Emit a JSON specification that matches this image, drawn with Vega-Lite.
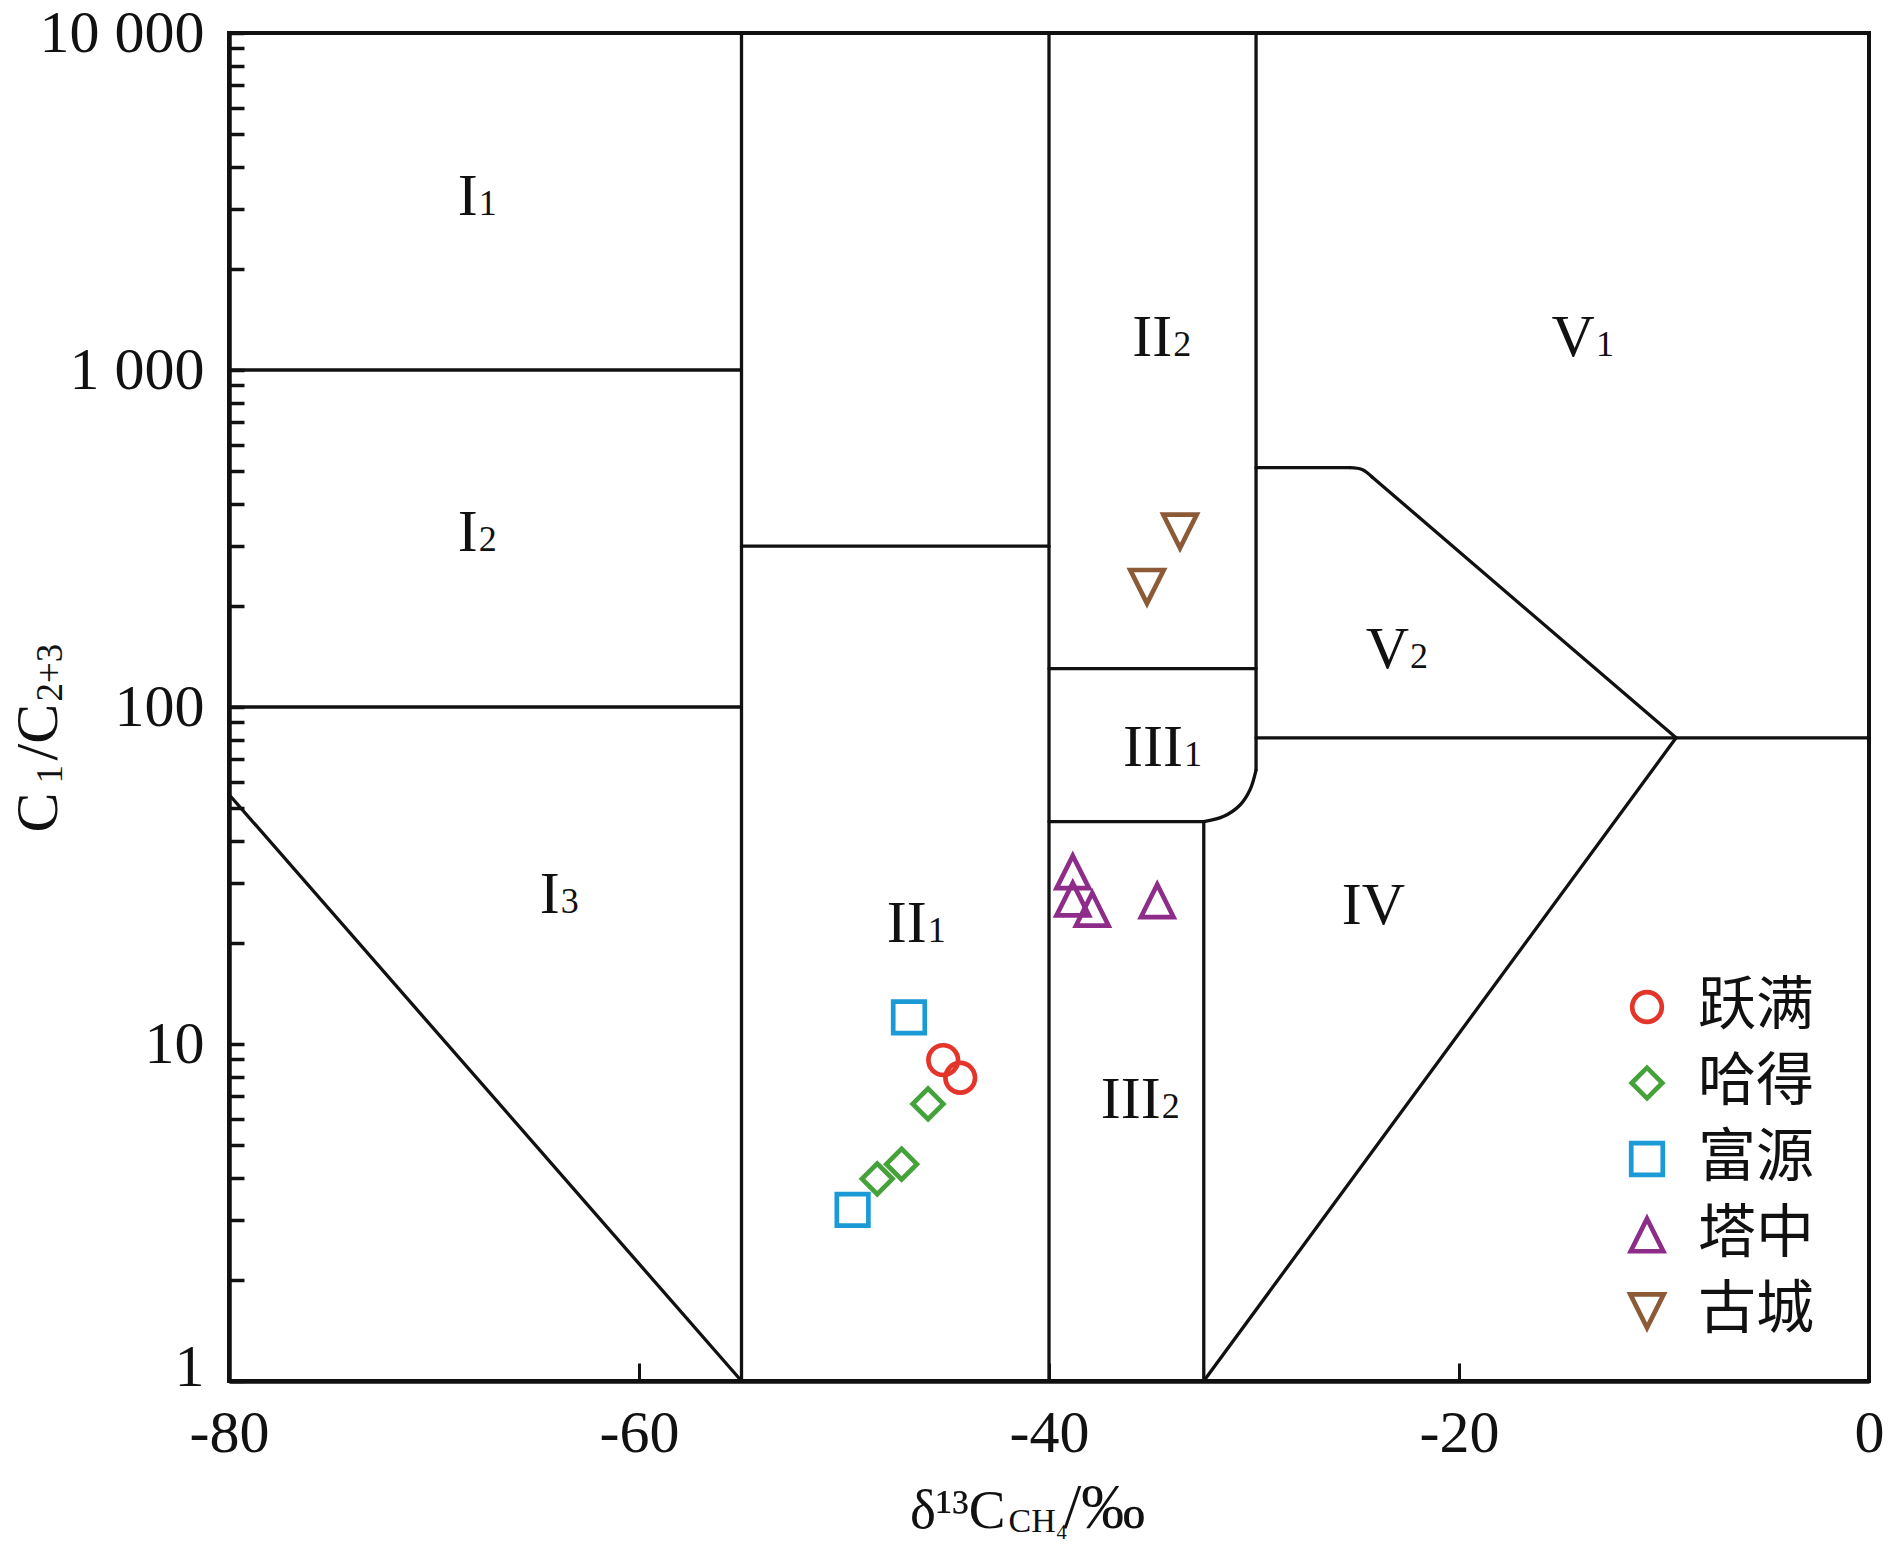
{
  "$schema": "https://vega.github.io/schema/vega-lite/v6.json",
  "width": 1640,
  "height": 1348,
  "autosize": "none",
  "padding": {"left": 229, "top": 33, "right": 22, "bottom": 167},
  "background": "white",
  "config": {
    "view": {"stroke": "#111111", "strokeWidth": 4},
    "font": "Liberation Serif, DejaVu Serif"
  },
  "resolve": {"axis": {"x": "independent", "y": "independent"}},
  "layer": [
    {
      "data": {"values": [
        {"seg": "s1", "i": 0, "x": -80, "y": 1000}, {"seg": "s1", "i": 1, "x": -55, "y": 1000},
        {"seg": "s2", "i": 0, "x": -80, "y": 100}, {"seg": "s2", "i": 1, "x": -55, "y": 100},
        {"seg": "s3", "i": 0, "x": -80, "y": 55}, {"seg": "s3", "i": 1, "x": -55, "y": 1},
        {"seg": "s4", "i": 0, "x": -55, "y": 1}, {"seg": "s4", "i": 1, "x": -55, "y": 10000},
        {"seg": "s5", "i": 0, "x": -55, "y": 300}, {"seg": "s5", "i": 1, "x": -40, "y": 300},
        {"seg": "s6", "i": 0, "x": -40, "y": 1}, {"seg": "s6", "i": 1, "x": -40, "y": 10000},
        {"seg": "s7", "i": 0, "x": -40, "y": 130}, {"seg": "s7", "i": 1, "x": -29.9, "y": 130},
        {"seg": "s8", "i": 0, "x": -29.9, "y": 10000}, {"seg": "s8", "i": 1, "x": -29.9, "y": 65},
        {"seg": "s9", "i": 0, "x": -29.9, "y": 65}, {"seg": "s9", "i": 1, "x": -30.2, "y": 56.7}, {"seg": "s9", "i": 2, "x": -30.68, "y": 51.2}, {"seg": "s9", "i": 3, "x": -31.5, "y": 47.3}, {"seg": "s9", "i": 4, "x": -32.45, "y": 45.7},
        {"seg": "s10", "i": 0, "x": -32.45, "y": 45.7}, {"seg": "s10", "i": 1, "x": -40, "y": 45.7},
        {"seg": "s11", "i": 0, "x": -32.45, "y": 45.7}, {"seg": "s11", "i": 1, "x": -32.45, "y": 1},
        {"seg": "s12", "i": 0, "x": -29.9, "y": 81}, {"seg": "s12", "i": 1, "x": 0, "y": 81},
        {"seg": "s13", "i": 0, "x": -29.9, "y": 513}, {"seg": "s13", "i": 1, "x": -25.32, "y": 513},
        {"seg": "s14", "i": 0, "x": -25.32, "y": 513}, {"seg": "s14", "i": 1, "x": -24.73, "y": 506.6}, {"seg": "s14", "i": 2, "x": -24.24, "y": 481.4},
        {"seg": "s15", "i": 0, "x": -24.24, "y": 481.4}, {"seg": "s15", "i": 1, "x": -9.41, "y": 81},
        {"seg": "s16", "i": 0, "x": -32.45, "y": 1}, {"seg": "s16", "i": 1, "x": -9.41, "y": 81}
      ]},
      "mark": {"type": "line", "interpolate": "catmull-rom", "color": "#111111", "strokeWidth": 3.3, "strokeCap": "round", "strokeJoin": "round", "clip": false},
      "encoding": {
        "x": {
          "field": "x", "type": "quantitative",
          "scale": {"domain": [-80, 0], "nice": false, "zero": false},
          "axis": {
            "orient": "bottom",
            "values": [-80, -60, -40, -20, 0],
            "labelExpr": "'' + datum.value",
            "grid": false,
            "tickSize": -18, "tickWidth": 3, "tickColor": "#111111",
            "domainColor": "#111111", "domainWidth": 4.5,
            "labelFont": "Liberation Serif", "labelFontSize": 60, "labelColor": "#111111",
            "labelPadding": 41, "labelFlush": false, "labelOverlap": false,
            "title": "δ¹³C",
            "titleFont": "Liberation Serif, DejaVu Serif", "titleFontSize": 55, "titleFontWeight": "normal", "titleColor": "#111111",
            "titleX": 776, "titleY": 146, "titleAlign": "right", "titleBaseline": "alphabetic"
          }
        },
        "y": {
          "field": "y", "type": "quantitative",
          "scale": {"type": "log", "domain": [1, 10000], "nice": false},
          "axis": {
            "orient": "left",
            "values": [1, 2, 3, 4, 5, 6, 7, 8, 9, 10, 20, 30, 40, 50, 60, 70, 80, 90, 100, 200, 300, 400, 500, 600, 700, 800, 900, 1000, 2000, 3000, 4000, 5000, 6000, 7000, 8000, 9000, 10000],
            "labelExpr": "datum.value == 10000 ? '10 000' : datum.value == 1000 ? '1 000' : (datum.value == 100 || datum.value == 10 || datum.value == 1) ? '' + datum.value : ''",
            "labelOffset": {"condition": {"test": "datum.value == 1", "value": -14}, "value": 0},
            "grid": false,
            "tickSize": -15, "tickWidth": 3.5, "tickColor": "#111111",
            "domainColor": "#111111", "domainWidth": 4.5,
            "labelFont": "Liberation Serif", "labelFontSize": 60, "labelColor": "#111111",
            "labelPadding": 40, "labelFlush": false, "labelOverlap": false,
            "title": "C",
            "titleFont": "Liberation Serif, DejaVu Serif", "titleFontSize": 60, "titleFontWeight": "normal", "titleColor": "#111111",
            "titleX": -173, "titleY": 799, "titleAngle": 270, "titleAlign": "left", "titleBaseline": "alphabetic"
          }
        },
        "detail": {"field": "seg", "type": "nominal"},
        "order": {"field": "i", "type": "quantitative"}
      }
    },
    {
      "data": {"name": "regions", "values": [
        {"rom": "I", "sub": "1", "x": -67.87, "y": 2889},
        {"rom": "I", "sub": "2", "x": -67.87, "y": 290.3},
        {"rom": "I", "sub": "3", "x": -63.87, "y": 24.5},
        {"rom": "II", "sub": "1", "x": -45.96, "y": 20.1},
        {"rom": "II", "sub": "2", "x": -33.99, "y": 1102},
        {"rom": "III", "sub": "1", "x": -33.46, "y": 66.9},
        {"rom": "III", "sub": "2", "x": -34.55, "y": 6.03},
        {"rom": "IV", "sub": "", "x": -22.63, "y": 22.73},
        {"rom": "V", "sub": "1", "x": -13.37, "y": 1102},
        {"rom": "V", "sub": "2", "x": -22.44, "y": 130.3}
      ]},
      "mark": {"type": "text", "font": "Liberation Serif", "fontSize": 60, "color": "#111111", "align": "right", "baseline": "alphabetic"},
      "encoding": {
        "x": {
          "field": "x", "type": "quantitative",
          "scale": {"domain": [-80, 0], "nice": false, "zero": false},
          "axis": {
            "orient": "bottom", "domain": false, "ticks": false, "labels": false, "grid": false,
            "title": "CH₄",
            "titleFont": "Liberation Serif, DejaVu Serif", "titleFontSize": 34, "titleFontWeight": "normal", "titleColor": "#111111",
            "titleX": 779, "titleY": 150, "titleAlign": "left", "titleBaseline": "alphabetic"
          }
        },
        "y": {
          "field": "y", "type": "quantitative",
          "scale": {"type": "log", "domain": [1, 10000], "nice": false},
          "axis": {
            "orient": "left", "domain": false, "ticks": false, "labels": false, "grid": false,
            "title": "1",
            "titleFont": "Liberation Serif", "titleFontSize": 37, "titleFontWeight": "normal", "titleColor": "#111111",
            "titleX": -168, "titleY": 750, "titleAngle": 270, "titleAlign": "left", "titleBaseline": "alphabetic"
          }
        },
        "text": {"field": "rom", "type": "nominal"}
      }
    },
    {
      "data": {"name": "regions"},
      "mark": {"type": "text", "font": "Liberation Serif", "fontSize": 36, "color": "#111111", "align": "left", "baseline": "alphabetic", "dx": 1},
      "encoding": {
        "x": {
          "field": "x", "type": "quantitative",
          "scale": {"domain": [-80, 0], "nice": false, "zero": false},
          "axis": {
            "orient": "bottom", "domain": false, "ticks": false, "labels": false, "grid": false,
            "title": "/‰",
            "titleFont": "Liberation Serif, DejaVu Serif", "titleFontSize": 64, "titleFontWeight": "normal", "titleColor": "#111111",
            "titleX": 834, "titleY": 146, "titleAlign": "left", "titleBaseline": "alphabetic"
          }
        },
        "y": {
          "field": "y", "type": "quantitative",
          "scale": {"type": "log", "domain": [1, 10000], "nice": false},
          "axis": {
            "orient": "left", "domain": false, "ticks": false, "labels": false, "grid": false,
            "title": "/C",
            "titleFont": "Liberation Serif", "titleFontSize": 60, "titleFontWeight": "normal", "titleColor": "#111111",
            "titleX": -173, "titleY": 727, "titleAngle": 270, "titleAlign": "left", "titleBaseline": "alphabetic"
          }
        },
        "text": {"field": "sub", "type": "nominal"}
      }
    },
    {
      "data": {"values": [
        {"station": "跃满", "x": -45.16, "y": 8.96},
        {"station": "跃满", "x": -44.33, "y": 7.94},
        {"station": "哈得", "x": -45.9, "y": 6.64},
        {"station": "哈得", "x": -47.19, "y": 4.4},
        {"station": "哈得", "x": -48.38, "y": 3.98},
        {"station": "富源", "x": -46.83, "y": 12.0},
        {"station": "富源", "x": -49.58, "y": 3.22},
        {"station": "塔中", "x": -38.84, "y": 32.4},
        {"station": "塔中", "x": -38.84, "y": 26.9},
        {"station": "塔中", "x": -37.89, "y": 25.1},
        {"station": "塔中", "x": -34.72, "y": 26.6},
        {"station": "古城", "x": -33.61, "y": 332},
        {"station": "古城", "x": -35.22, "y": 227.5}
      ]},
      "mark": {"type": "point", "filled": false, "strokeWidth": 4.7, "opacity": 1},
      "encoding": {
        "x": {
          "field": "x", "type": "quantitative",
          "scale": {"domain": [-80, 0], "nice": false, "zero": false},
          "axis": null
        },
        "y": {
          "field": "y", "type": "quantitative",
          "scale": {"type": "log", "domain": [1, 10000], "nice": false},
          "axis": {
            "orient": "left", "domain": false, "ticks": false, "labels": false, "grid": false,
            "title": "2+3",
            "titleFont": "Liberation Serif", "titleFontSize": 37, "titleFontWeight": "normal", "titleColor": "#111111",
            "titleX": -168, "titleY": 668, "titleAngle": 270, "titleAlign": "left", "titleBaseline": "alphabetic"
          }
        },
        "color": {
          "field": "station", "type": "nominal",
          "scale": {"domain": ["跃满", "哈得", "富源", "塔中", "古城"], "range": ["#E4352B", "#45A23A", "#1B9AD6", "#8E2C89", "#8C5A36"]},
          "legend": {
            "title": null, "orient": "none", "legendX": 1389, "legendY": 945, "padding": 0,
            "labelFont": "Noto Sans CJK SC", "labelFontSize": 58, "labelColor": "#111111",
            "labelOffset": 22, "rowPadding": 18, "symbolStrokeWidth": 4.7
          }
        },
        "shape": {
          "field": "station", "type": "nominal",
          "scale": {"domain": ["跃满", "哈得", "富源", "塔中", "古城"], "range": ["circle", "M-1,0L0,-1L1,0L0,1Z", "square", "M0,-1L1,1L-1,1Z", "M-1,-1L1,-1L0,1Z"]}
        },
        "size": {
          "field": "station", "type": "nominal",
          "scale": {"domain": ["跃满", "哈得", "富源", "塔中", "古城"], "range": [876, 1115, 876, 841, 841]}
        }
      }
    }
  ]
}
